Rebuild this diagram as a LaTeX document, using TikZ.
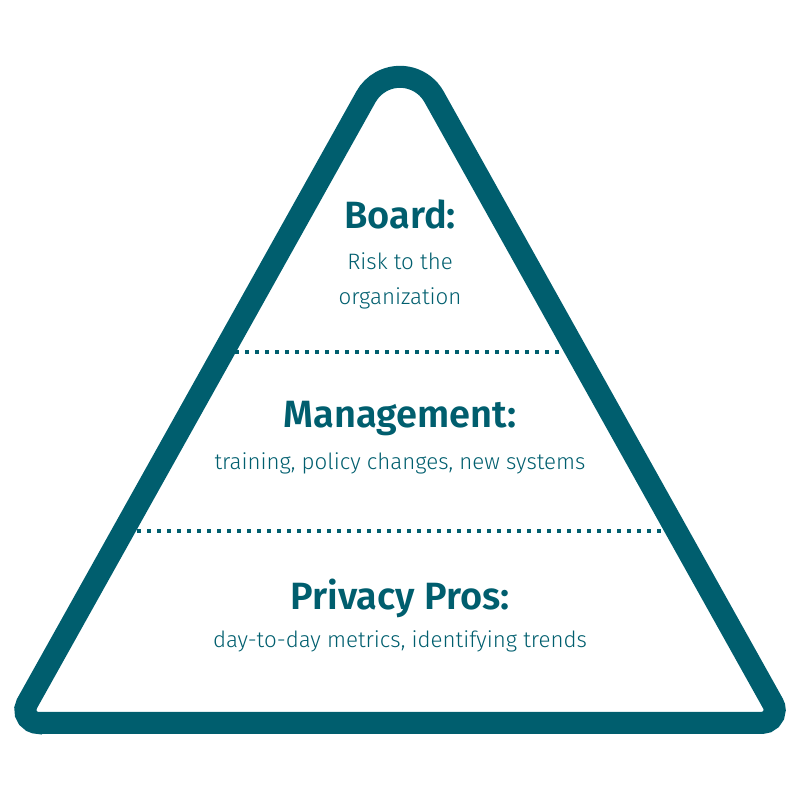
\documentclass[tikz,border=0pt]{standalone}
\usepackage{fontspec}
\setmainfont{Fira Sans}[UprightFont=* Light,BoldFont=* SemiBold]
\usetikzlibrary{positioning}
\definecolor{pyramid}{HTML}{005E6E}

\begin{document}
\begin{tikzpicture}[x=1pt,y=1pt,
	head/.style={anchor=base,text=pyramid,font=\fontsize{38}{44}\selectfont\bfseries},
	sub/.style={anchor=base,text=pyramid,font=\fontsize{22.3}{26}\selectfont},
	divider/.style={pyramid,line width=4pt,dash pattern=on 4pt off 6pt}]
	\useasboundingbox (0,0) rectangle (800,800);
	% outline
	\draw[pyramid,line width=22pt] (38.3,77) -- (761.7,77)
		arc[start angle=-90,end angle=29.2,radius=13] -- (434.05,703.2)
		arc[start angle=29.2,end angle=150.8,radius=39] -- (26.95,96.34)
		arc[start angle=150.8,end angle=270,radius=13] -- cycle;
	% levels
	\draw[divider] (235,448) -- (563,448);
	\draw[divider] (137,269) -- (665,269);
	\node[head] (board) at (400,571) {Board:};
	\node[sub] (risk) at (400,530) {Risk to the};
	\node[sub] (org) at (400,495) {organization};
	\node[head] (mgmt) at (400,372) {Management:};
	\node[sub] (mgmtsub) at (400,330) {training, policy changes, new systems};
	\node[head] (pros) at (400,190) {Privacy Pros:};
	\node[sub] (prossub) at (400,152) {day-to-day metrics, identifying trends};
\end{tikzpicture}
\end{document}
